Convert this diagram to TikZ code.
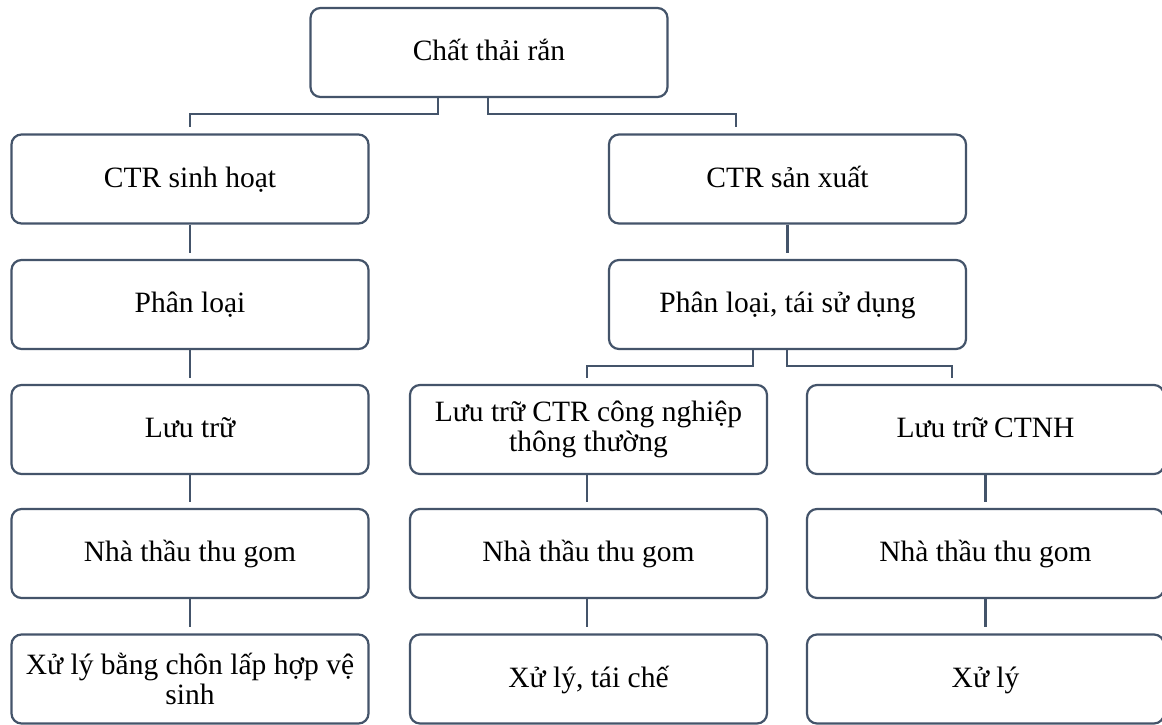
\documentclass[tikz,border=0pt]{standalone}
\usepackage{fontspec}
\setmainfont{Liberation Serif}
\definecolor{linegray}{HTML}{44546A}
\begin{document}
\begin{tikzpicture}[x=1pt,y=-1pt,
  box/.style={draw=linegray, line width=2.2pt, rounded corners=10pt, fill=white,
    minimum width=357pt, minimum height=89pt, inner sep=0pt, align=center,
    text height=22pt, text depth=6pt,
    font=\fontsize{29.5}{30}\selectfont},
  twoline/.style={text height={}, text depth={}},
  link/.style={draw=linegray, line width=2.2pt, shorten >=6pt}]
\useasboundingbox[fill=white] (0,0) rectangle (1162,724);

% root
\node[box] (root) at (489,52.5) {Chất thải rắn};

% household branch
\node[box] (sh)  at (190,179)   {CTR sinh hoạt};
\node[box] (pl)  at (190,304.5) {Phân loại};
\node[box] (lt)  at (190,429.5) {Lưu trữ};
\node[box] (tg1) at (190,553.5) {Nhà thầu thu gom};
\node[box,twoline] (xl1) at (190,679) {Xử lý bằng chôn lấp hợp vệ\\sinh};

% production branch
\node[box] (sx)  at (787.5,179)   {CTR sản xuất};
\node[box] (pt)  at (787.5,304.5) {Phân loại, tái sử dụng};
\node[box,twoline] (lc) at (588.5,429.5) {Lưu trữ CTR công nghiệp\\thông thường};
\node[box] (tg2) at (588.5,553.5) {Nhà thầu thu gom};
\node[box] (xl2) at (588.5,679)   {Xử lý, tái chế};
\node[box] (ln)  at (985.5,429.5) {Lưu trữ CTNH};
\node[box] (tg3) at (985.5,553.5) {Nhà thầu thu gom};
\node[box] (xl3) at (985.5,679)   {Xử lý};

% elbow connectors
\draw[link] ([xshift=-51pt]root.south) -- ++(0,16) -| (sh.north);
\draw[link] ([xshift=-1pt]root.south) -- ++(0,16) -| ([xshift=-51.5pt]sx.north);
\draw[link] ([xshift=-34.5pt]pt.south) -- ++(0,16) -| ([xshift=-1.5pt]lc.north);
\draw[link] ([xshift=-0.5pt]pt.south) -- ++(0,16) -| ([xshift=-33.5pt]ln.north);

% straight connectors
\draw[link] (sh.south) -- (pl.north);
\draw[link] (pl.south) -- (lt.north);
\draw[link] (lt.south) -- (tg1.north);
\draw[link] (tg1.south) -- (xl1.north);
\draw[link] (sx.south) -- (pt.north);
\draw[link] ([xshift=-1.5pt]lc.south) -- ([xshift=-1.5pt]tg2.north);
\draw[link] ([xshift=-1.5pt]tg2.south) -- ([xshift=-1.5pt]xl2.north);
\draw[link] (ln.south) -- (tg3.north);
\draw[link] (tg3.south) -- (xl3.north);
\end{tikzpicture}
\end{document}
